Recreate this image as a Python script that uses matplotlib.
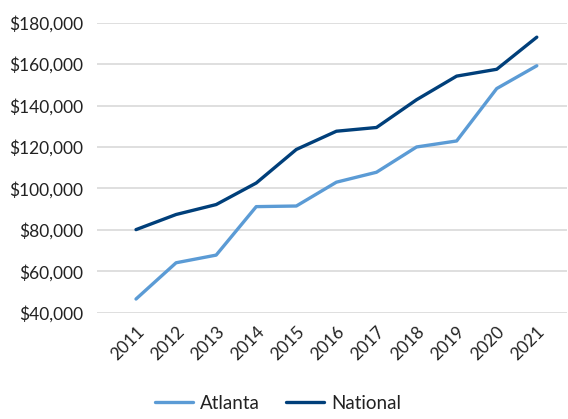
import matplotlib.pyplot as plt
from matplotlib.ticker import FuncFormatter

plt.rcParams['font.family'] = ['Lato', 'DejaVu Sans']

years = ['2011', '2012', '2013', '2014', '2015', '2016',
         '2017', '2018', '2019', '2020', '2021']
atlanta = [46600, 64100, 67800, 91200, 91500, 103000,
           107800, 120000, 122900, 148200, 159200]
national = [80100, 87400, 92200, 102600, 118800, 127600,
            129400, 142800, 154200, 157500, 173000]

fig = plt.figure(figsize=(5.68, 4.19), dpi=100)
ax = fig.add_axes([0.171, 0.2537, 0.827, 0.6922])

x = list(range(len(years)))
ax.plot(x, atlanta, color='#5B9BD5', linewidth=2.4, label='Atlanta',
        solid_capstyle='round', zorder=3)
ax.plot(x, national, color='#003F7A', linewidth=2.4, label='National',
        solid_capstyle='round', zorder=3)

ax.set_ylim(40000, 180000)
ax.set_yticks(range(40000, 180001, 20000))
ax.yaxis.set_major_formatter(FuncFormatter(lambda v, p: '${:,.0f}'.format(v)))
ax.set_xlim(-0.97, 10.75)
ax.set_xticks(x)
ax.set_xticklabels(years, rotation=45, ha='right', rotation_mode='anchor')

ax.grid(axis='y', color='#D9D9D9', linewidth=1.2)
ax.set_axisbelow(True)
for s in ax.spines.values():
    s.set_visible(False)
ax.tick_params(axis='both', length=0, labelsize=12.5, colors='#222222')
ax.tick_params(axis='x', pad=8)
ax.tick_params(axis='y', pad=10)

# legend sits at the very bottom edge, as in the source
fig.legend(loc='lower center', bbox_to_anchor=(0.49, -0.01), ncol=2,
           frameon=False, fontsize=13.5, handlelength=2.0,
           handletextpad=0.4, columnspacing=1.4, labelcolor='#222222',
           borderpad=0.1)

fig.savefig('out.png', dpi=100)
